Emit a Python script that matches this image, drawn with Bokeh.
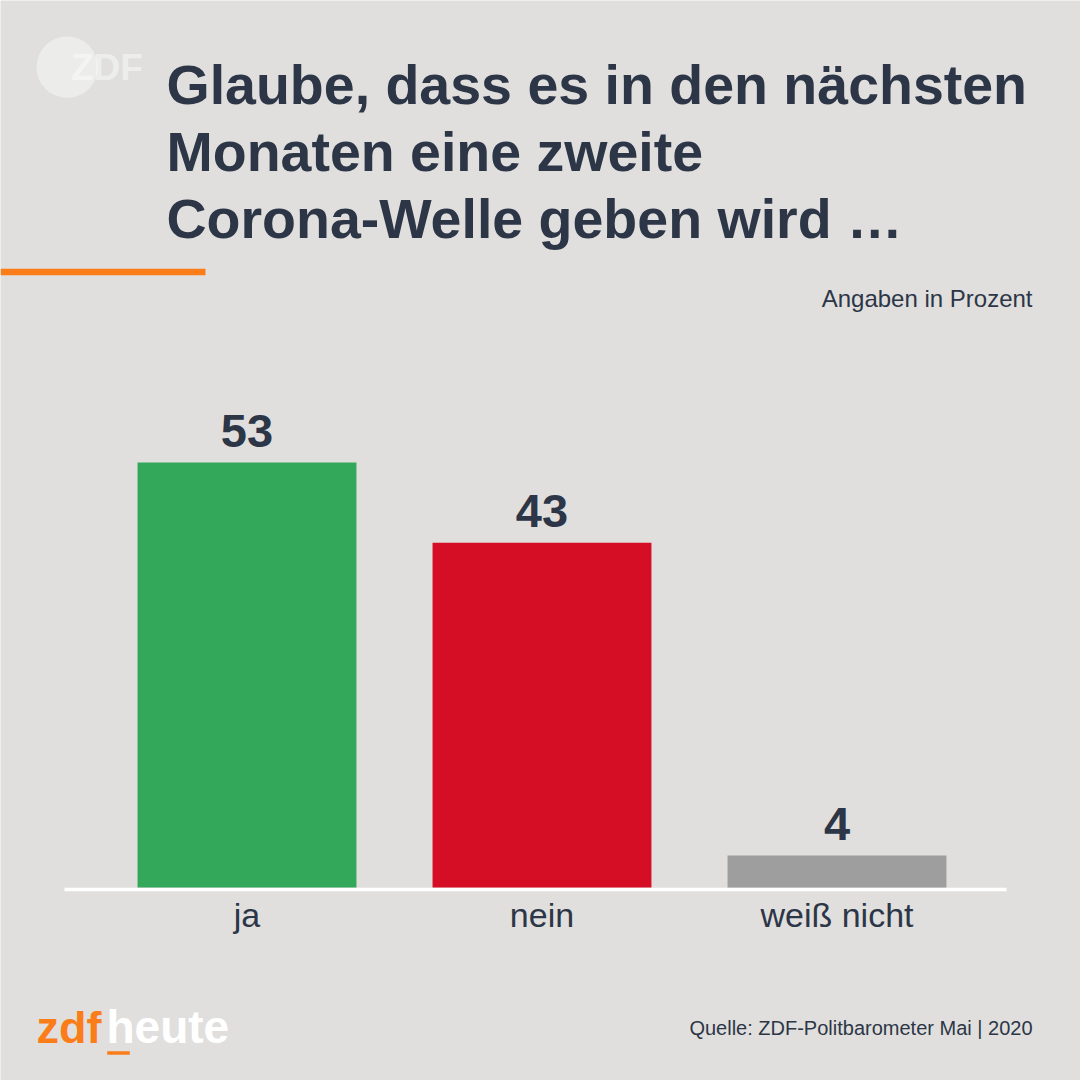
from bokeh.plotting import figure
from bokeh.models import Range1d, ColumnDataSource
from bokeh.core.properties import value
from bokeh.embed import file_html
from bokeh.resources import INLINE

# ---- data ----
categories = ["ja", "nein", "weiß nicht"]
values = [53, 43, 4]
value_labels = ["53", "43", "4"]
positions = [0, 1, 2]
bar_colors = ["#34a85a", "#d50e26", "#9e9e9e"]

title_lines = ["Glaube, dass es in den nächsten", "Monaten eine zweite", "Corona-Welle geben wird …"]
unit_note = "Angaben in Prozent"
source_note = "Quelle: ZDF-Politbarometer Mai | 2020"

# ---- style ----
BG = "#e0dfdd"
INK = "#2c3647"
ORANGE = "#fa7d19"
FONT = value("Liberation Sans")
K = 0.39  # rendered baseline sits ~0.39em below the anchor; compensate


def bl(y, size):
    return y - K * size


p = figure(width=1080, height=1080, output_backend="svg", toolbar_location=None,
           x_range=Range1d(-0.83559, 2.82543), y_range=Range1d(-24.068, 110.612),
           min_border=0, background_fill_color=BG, border_fill_color=BG,
           outline_line_color=None, x_axis_location=None, y_axis_location=None,
           title=None)
p.grid.visible = False
# pixel space of the whole picture for decorations
p.extra_x_ranges = {"img": Range1d(0, 1080)}
p.extra_y_ranges = {"img": Range1d(1080, 0)}
IMG = dict(x_range_name="img", y_range_name="img")

src = ColumnDataSource(dict(x=positions, top=values, color=bar_colors,
                            lab=value_labels, cat=categories, base=[0] * len(values)))

# baseline
p.quad(left=[64], right=[1006], top=[887.3], bottom=[890.7], color="white", line_color=None, **IMG)

# bars
p.vbar(x="x", top="top", bottom=0, width=0.742, color="color", line_color=None, source=src)

# value labels
p.text(x="x", y="top", text="lab", source=src, text_align="center", text_baseline="alphabetic",
       y_offset=-13 - K * 47, text_font=FONT, text_font_style="bold", text_font_size="47px", text_color=INK)

# category labels
p.text(x="x", y="base", text="cat", source=src, text_align="center", text_baseline="alphabetic",
       y_offset=41 - K * 34, text_font=FONT, text_font_size="34px", text_color=INK)

# ZDF logo top-left
p.circle(x=[66.7], y=[66.7], radius=30.7, color="white", alpha=0.4, line_color=None, **IMG)
p.text(x=[70.5], y=[bl(81, 37)], text=["ZDF"], text_font=FONT, text_font_style="bold", text_font_size="37px",
       text_color="white", text_alpha=0.45, text_baseline="alphabetic", **IMG)

# title
p.text(x=[166, 166, 166], y=[bl(106, 55.5), bl(173, 55.5), bl(240.5, 55.5)], text=title_lines,
       text_font=FONT, text_font_style="bold", text_font_size="55.5px", text_color=INK,
       text_baseline="alphabetic", **IMG)

# orange rule
p.quad(left=[0], right=[205], top=[268.3], bottom=[274.8], color=ORANGE, line_color=None, **IMG)

# unit note
p.text(x=[1032], y=[bl(308.3, 24) - 0.5], text=[unit_note], text_font=FONT, text_font_size="24px",
       text_color=INK, text_align="right", text_baseline="alphabetic", **IMG)

# source note
p.text(x=[1032], y=[bl(1035.7, 20)], text=[source_note], text_font=FONT, text_font_size="20px",
       text_color=INK, text_align="right", text_baseline="alphabetic", **IMG)

# zdfheute logo
p.text(x=[36], y=[bl(1044.3, 45)], text=["zdf"], text_font=FONT, text_font_style="bold",
       text_font_size="45px", text_color=ORANGE, text_baseline="alphabetic", **IMG)
p.text(x=[106], y=[bl(1044.3, 45)], text=["heute"], text_font=FONT, text_font_style="bold",
       text_font_size="46px", text_color="white", text_baseline="alphabetic", **IMG)
p.quad(left=[106.7], right=[129.3], top=[1050.7], bottom=[1054.3], color=ORANGE, line_color=None, **IMG)

open("out.html", "w").write(file_html(p, INLINE))
